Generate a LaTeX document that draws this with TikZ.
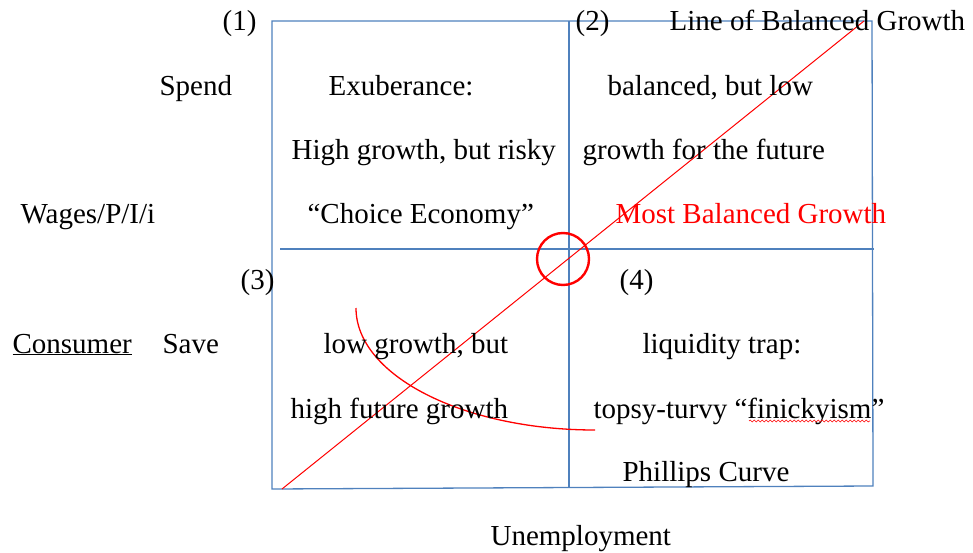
\documentclass[tikz,border=0pt]{standalone}
\usepackage{fontspec}
\setmainfont{Liberation Serif}
\usetikzlibrary{decorations.pathmorphing}
\definecolor{gridblue}{RGB}{79,129,189}
\definecolor{balred}{RGB}{255,0,0}

\begin{document}
\begin{tikzpicture}[x=1pt,y=-1pt,line width=1.2pt,
  lbl/.style={anchor=base west,inner sep=0pt,font=\fontsize{29}{34}\selectfont},
  gridline/.style={gridblue,line width=1.3pt}]
\useasboundingbox (0,0) rectangle (973,553);
% ---------- quadrant frame ----------
\coordinate (tl) at (272,21);
\coordinate (tr) at (872,21);
\coordinate (br) at (873,486);
\coordinate (bl) at (272,489);
\draw[gridline] (tl) -- (tr) -- (br) -- (bl) -- cycle;
\draw[gridline] (569,21) -- (569,488);
\draw[gridline] (280,249) -- (874,249);
% ---------- balanced growth line, centre ring, Phillips curve ----------
\coordinate (lo) at (282,489);
\coordinate (hi) at (864,21);
\draw[balred,line width=1pt] (lo) -- (hi);
\draw[balred,line width=2.4pt] (563,259) circle (26);
\coordinate (pc) at (356,308);
\draw[balred,line width=1.3pt] (pc) arc[start angle=180,end angle=90,x radius=239,y radius=122];
% ---------- quadrant numbers ----------
\node[lbl] (q1) at (222,31) {(1)};
\node[lbl] (q2) at (575,31) {(2)};
\node[lbl] (q3) at (240,289) {(3)};
\node[lbl] (q4) at (619,289) {(4)};
% ---------- side labels ----------
\node[lbl] (lbg) at (669,31) {Line of Balanced Growth};
\node[lbl] (spend) at (159,96) {Spend};
\node[lbl] (wages) at (20,224) {Wages/P/I/i};
\node[lbl] (cons) at (12,353) {\underline{Consumer}};
\node[lbl] (save) at (162,353) {Save};
\node[lbl] (unemp) at (490,545) {Unemployment};
% ---------- quadrant texts ----------
\node[lbl] (exub) at (328,96) {Exuberance:};
\node[lbl] (hgr) at (291,160) {High growth, but risky};
\node[lbl] (choice) at (307,224) {``Choice Economy''};
\node[lbl] (bal) at (607,96) {balanced, but low};
\node[lbl] (gff) at (582,160) {growth for the future};
\node[lbl,text=balred] (mbg) at (615,224) {Most Balanced Growth};
\node[lbl] (lgb) at (323,353) {low growth, but};
\node[lbl] (hfg) at (290,418) {high future growth};
\node[lbl] (liq) at (642,353) {liquidity trap:};
\node[lbl] (topsy) at (593,418) {topsy-turvy ``finickyism''};
\node[lbl] (phil) at (622,481) {Phillips Curve};
% squiggle under the odd word
\draw[balred,line width=0.6pt,decorate,decoration={snake,amplitude=0.9pt,segment length=4pt}] (749,421) -- (870,421);
\end{tikzpicture}
\end{document}
